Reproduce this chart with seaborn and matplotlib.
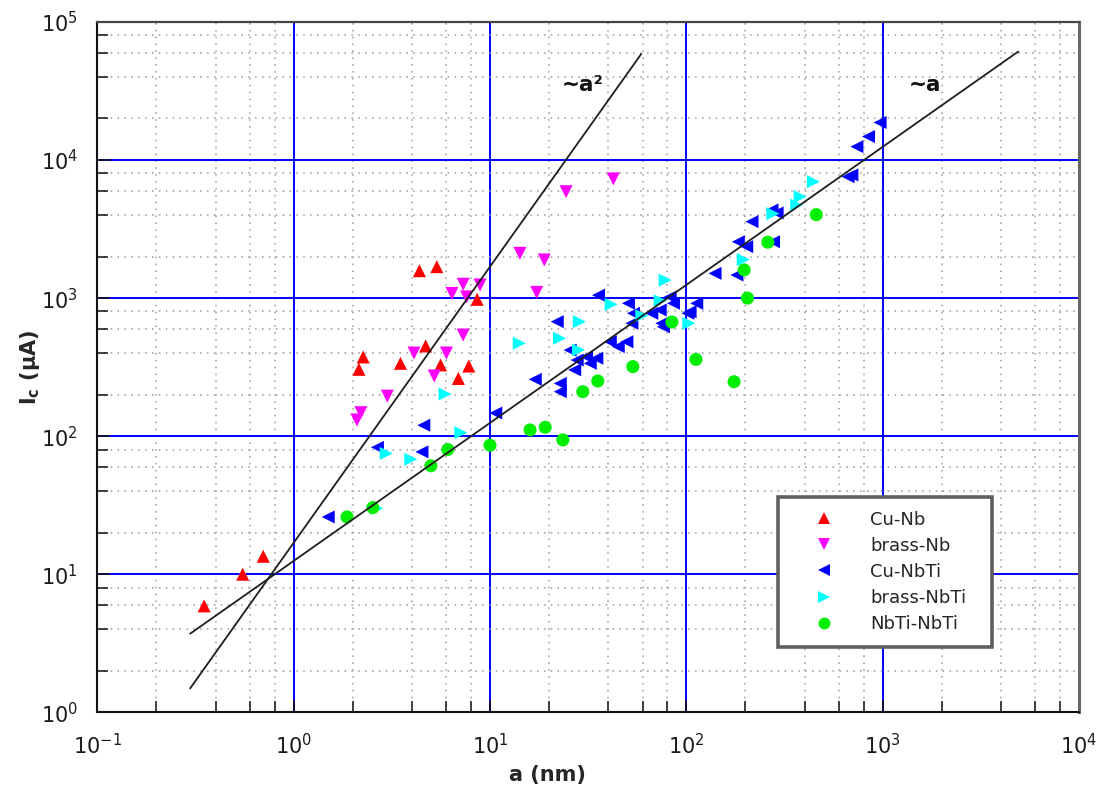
import matplotlib
matplotlib.use("Agg")
import numpy as np
import pandas as pd
import matplotlib.pyplot as plt
import seaborn as sns
from matplotlib.ticker import LogLocator, NullFormatter
from matplotlib.lines import Line2D

# ---- measured critical currents Ic (uA) versus layer thickness a (nm) ----
cu_nb_a = [0.35, 0.55, 0.70, 2.15, 2.26, 3.5, 4.37, 4.7, 5.36, 5.6, 6.9, 7.8, 8.6]
cu_nb_i = [5.9, 10, 13.5, 305, 375, 337, 1580, 450, 1690, 328, 262, 322, 980]

brass_nb_a = [2.1, 2.2, 3.0, 4.1, 5.2, 6.0, 6.4, 7.3, 7.3, 7.6, 8.9, 14.2, 17.3,
              18.9, 24.4, 42.5]
brass_nb_i = [131, 148, 195, 400, 273, 400, 1080, 1260, 540, 1020, 1245, 2110,
              1100, 1890, 5900, 7300]

cu_nbti_a = [1.5, 2.67, 4.5, 4.6, 10.7, 17, 22, 22.8, 22.8, 25.6, 27, 27.8, 31,
             32.4, 35, 35.7, 41, 45, 49.8, 50.7, 52.8, 53.8, 66.7, 75, 76.4, 82.7,
             86, 73.6, 102, 104.5, 113, 140, 181, 184, 203, 216, 273, 290, 278,
             667, 697, 739, 847, 970]
cu_nbti_i = [26, 83, 77, 120, 147, 258, 675, 241, 210, 420, 302, 356, 376, 337,
             367, 1050, 483, 445, 483, 917, 657, 776, 776, 657, 620, 1020, 917,
             820, 776, 797, 917, 1510, 1470, 2560, 2360, 3580, 4350, 4140, 2560,
             7570, 7800, 12500, 14800, 18700]

brass_nbti_a = [2.65, 2.96, 3.95, 5.9, 7.1, 14.1, 22.6, 28.5, 28.2, 41.4, 59.3,
                73.6, 78, 103, 195, 276, 365, 380, 444]
brass_nbti_i = [30, 75, 68, 202, 106, 471, 512, 675, 421, 900, 746, 958, 1350,
                657, 1900, 4090, 4720, 5430, 6970]

nbti_nbti_a = [1.87, 2.53, 5.0, 6.1, 10, 16, 19.1, 23.5, 29.7, 35.4, 53.4, 84.4,
               112, 175, 205, 197, 260, 459]
nbti_nbti_i = [26, 30.4, 61, 80, 86, 111, 116, 94, 210, 251, 319, 671, 360, 248,
               1000, 1600, 2540, 4020]

# power-law guide lines (end points)
guide_a2_x = [0.297, 58.9]
guide_a2_y = [1.49, 58600]
guide_a1_x = [0.297, 4900]
guide_a1_y = [3.71, 61000]

series_names = ["Cu-Nb", "brass-Nb", "Cu-NbTi", "brass-NbTi", "NbTi-NbTi"]
series_a = [cu_nb_a, brass_nb_a, cu_nbti_a, brass_nbti_a, nbti_nbti_a]
series_i = [cu_nb_i, brass_nb_i, cu_nbti_i, brass_nbti_i, nbti_nbti_i]
colors = {"Cu-Nb": "#ff0000", "brass-Nb": "#ff00ff", "Cu-NbTi": "#0000ff",
          "brass-NbTi": "#00ffff", "NbTi-NbTi": "#00ee00"}
markers = {"Cu-Nb": "^", "brass-Nb": "v", "Cu-NbTi": "<",
           "brass-NbTi": ">", "NbTi-NbTi": "o"}

df = pd.concat([pd.DataFrame({"a": a, "Ic": i, "sample": n})
                for n, a, i in zip(series_names, series_a, series_i)],
               ignore_index=True)

sns.set_theme(style="white")
plt.rcParams["font.family"] = ["DejaVu Sans"]
plt.rcParams["mathtext.fontset"] = "dejavusans"

fig = plt.figure(figsize=(11.11, 7.99), dpi=100)
ax = fig.add_axes([0.0876, 0.1085, 0.8836, 0.864])
ax.set_xscale("log")
ax.set_yscale("log")

sns.scatterplot(data=df, x="a", y="Ic", hue="sample", style="sample",
                palette=colors, markers=markers, s=88, edgecolor="none",
                linewidth=0, legend=False, ax=ax, zorder=3)

ax.plot(guide_a2_x, guide_a2_y, color="#1e1e1e", lw=1.3, zorder=4)
ax.plot(guide_a1_x, guide_a1_y, color="#1e1e1e", lw=1.3, zorder=4)

ax.text(29.8, 35000, "~a²", fontsize=15.5, fontweight="bold", ha="center",
        va="center", color="#111111")
ax.text(1650, 35000, "~a", fontsize=15.5, fontweight="bold", ha="center",
        va="center", color="#111111")

ax.set_xlim(0.1, 1e4)
ax.set_ylim(1, 1e5)
for axis in (ax.xaxis, ax.yaxis):
    axis.set_major_locator(LogLocator(base=10, numticks=10))
    axis.set_minor_locator(LogLocator(base=10, subs=[2, 4, 6, 8], numticks=20))
    axis.set_minor_formatter(NullFormatter())

ax.set_axisbelow(True)
ax.grid(which="minor", color="#9a9a9a", lw=1.1, ls=(0, (1, 3.5)))
ax.grid(which="major", color="#0000ff", lw=1.4, ls="-")

ax.tick_params(which="both", direction="in", top=False, right=False,
               left=True, bottom=True, width=1.1, color="#111111")
ax.tick_params(which="major", length=9, labelsize=15, labelcolor="#1a1a1a")
ax.tick_params(which="minor", length=8)
ax.tick_params(axis="y", which="major", pad=14)
ax.tick_params(axis="x", which="major", pad=15)

for side in ("left", "bottom"):
    ax.spines[side].set_color("#111111")
    ax.spines[side].set_linewidth(1.5)
ax.spines["top"].set_color("#444444")
ax.spines["top"].set_linewidth(1.6)
ax.spines["right"].set_color("#666666")
ax.spines["right"].set_linewidth(2.2)

ax.set_xlabel("a (nm)", fontsize=15, fontweight="bold")
ax.set_ylabel(r"$\mathbf{I_c}$ (μA)", fontsize=15, fontweight="bold")
ax.xaxis.set_label_coords(0.459, -0.077)
ax.yaxis.set_label_coords(-0.056, 0.50)

handles = [Line2D([], [], ls="none", marker=markers[n], color=colors[n],
                  markeredgewidth=0, markersize=8.5) for n in series_names]
leg = ax.legend(handles, series_names, loc="upper left",
                bbox_to_anchor=(0.6934, 0.0, 0.218, 0.3119), mode="expand",
                borderaxespad=0, fontsize=13, frameon=True, fancybox=False,
                framealpha=1, borderpad=0.75, handlelength=3.6,
                handletextpad=0.75, labelspacing=0.45)
leg.get_frame().set_edgecolor("#606060")
leg.get_frame().set_linewidth(2.6)
leg.set_zorder(6)

fig.savefig("out.png", dpi=100, facecolor="white")
